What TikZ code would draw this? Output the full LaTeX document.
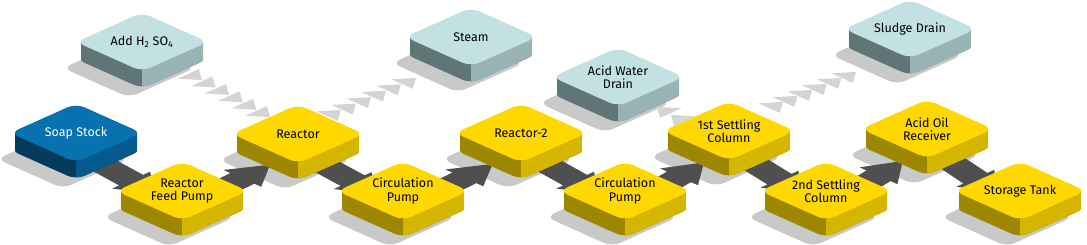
\documentclass[tikz,border=0pt]{standalone}
\usepackage{fontspec}
\setmainfont{Fira Sans}
\usetikzlibrary{calc,shapes.geometric}

\definecolor{yellowtop}{HTML}{FFD800}
\definecolor{yellowleft}{HTML}{9E8700}
\definecolor{yellowright}{HTML}{D4B500}
\definecolor{bluetop}{HTML}{0872B0}
\definecolor{blueleft}{HTML}{043A5C}
\definecolor{blueright}{HTML}{045A8C}
\definecolor{paletop}{HTML}{C3E0E3}
\definecolor{paleleft}{HTML}{5F7576}
\definecolor{paleright}{HTML}{99B2B4}
\definecolor{flowgray}{HTML}{4F4F4F}
\definecolor{shadowgray}{HTML}{C9C9C9}
\definecolor{chevgray}{HTML}{D4D4D4}

\pgfdeclarelayer{ground}
\pgfdeclarelayer{flows}
\pgfsetlayers{ground,flows,main}

% block: #1 name, #2 centre, #3 colour prefix, #4 text colour, #5 label
\newcommand{\isoblock}[5]{%
  \begin{pgfonlayer}{ground}
    \fill[shadowgray, rounded corners=9pt, shift={#2}, shift={(-13,26)}]
      (-66,0) -- (0,-29.5) -- (66,0) -- (0,29.5) -- cycle;
  \end{pgfonlayer}
  \begin{scope}[shift={#2}]
    \foreach \k in {1,3,...,17}
      \fill[#3left, rounded corners=9pt] (-66,\k) -- (0,\k-29.5) -- (66,\k) -- (0,\k+29.5) -- cycle;
    \begin{scope}
      \clip (0,-40) rectangle (70,50);
      \foreach \k in {1,3,...,17}
        \fill[#3right, rounded corners=9pt] (-66,\k) -- (0,\k-29.5) -- (66,\k) -- (0,\k+29.5) -- cycle;
    \end{scope}
  \end{scope}
  \node[face, fill=#3top, text=#4] (#1) at #2 {#5};
}

% flat arrow on the ground: #1 from, #2 to, #3 sideways vector
\newcommand{\flowarrow}[3]{%
  \begin{pgfonlayer}{flows}
    \coordinate (fa) at ($(#1)+(0,17)$);
    \coordinate (fb) at ($(#2)+(0,17)$);
    \coordinate (fh) at ($(fa)!0.52!(fb)$);
    \fill[flowgray] ($(fa)+0.19*#3$) -- ($(fh)+0.19*#3$) -- ($(fh)+0.3*#3$)
      -- ($(fa)!0.76!(fb)$) -- ($(fh)-0.3*#3$) -- ($(fh)-0.19*#3$) -- ($(fa)-0.19*#3$) -- cycle;
  \end{pgfonlayer}
}

% one chevron: #1 centre, #2 heading, #3 sideways vector
\newcommand{\chev}[3]{%
  \fill[chevgray] ($#1+0.11*#2$) -- ($#1-0.11*#2+0.17*#3$) -- ($#1-0.11*#2-0.17*#3$) -- cycle;
}

\begin{document}
\begin{tikzpicture}[x=1pt, y=-1pt,
    face/.style={diamond, aspect=2.25, minimum width=132pt, minimum height=59pt,
      inner sep=0pt, rounded corners=9pt, align=center,
      font=\fontsize{12.5}{13.5}\selectfont}]
  \useasboundingbox (0,0) rectangle (1087,245);

  % Feeds and drains (back row)
  \isoblock{addacid}{(142,42)}{pale}{black}{Add H\textsubscript{2} SO\textsubscript{4}}
  \isoblock{steam}{(471,37)}{pale}{black}{Steam}
  \isoblock{acidwater}{(618,77)}{pale}{black}{Acid Water\\Drain}
  \isoblock{sludge}{(910,29)}{pale}{black}{Sludge Drain}

  % Upper row
  \isoblock{soap}{(76,133)}{blue}{white}{Soap Stock}
  \isoblock{reactor}{(298,134)}{yellow}{black}{Reactor}
  \isoblock{reactortwo}{(521,133)}{yellow}{black}{Reactor-2}
  \isoblock{settleone}{(729,131)}{yellow}{black}{1st Settling\\Column}
  \isoblock{acidoil}{(927,129)}{yellow}{black}{Acid Oil\\Receiver}

  % Lower row
  \isoblock{feedpump}{(182,191)}{yellow}{black}{Reactor\\Feed Pump}
  \isoblock{circone}{(403,191)}{yellow}{black}{Circulation\\Pump}
  \isoblock{circtwo}{(625,191)}{yellow}{black}{Circulation\\Pump}
  \isoblock{settletwo}{(826,191)}{yellow}{black}{2nd Settling\\Column}
  \isoblock{storage}{(1020,191)}{yellow}{black}{Storage Tank}

  % Main flow
  \flowarrow{soap}{feedpump}{(63,-28)}
  \flowarrow{feedpump}{reactor}{(63,28)}
  \flowarrow{reactor}{circone}{(63,-28)}
  \flowarrow{circone}{reactortwo}{(63,28)}
  \flowarrow{reactortwo}{circtwo}{(63,-28)}
  \flowarrow{circtwo}{settleone}{(63,28)}
  \flowarrow{settleone}{settletwo}{(63,-28)}
  \flowarrow{settletwo}{acidoil}{(63,28)}
  \flowarrow{acidoil}{storage}{(63,-28)}

  % Side streams (chevrons)
  \begin{pgfonlayer}{ground}
    \coordinate (acidin) at ($(addacid)+(53,35)$);
    \coordinate (acidout) at ($(reactor)+(-35,-20)$);
    \foreach \t in {0,0.2,...,1.01} {
      \coordinate (c) at ($(acidin)!\t!(acidout)$);
      \chev{(c)}{(63,28)}{(63,-28)}
    }
    \coordinate (steamin) at ($(reactor)+(36,-21)$);
    \coordinate (steamout) at ($(steam)+(-62,44)$);
    \foreach \t in {0,0.2,...,1.01} {
      \coordinate (c) at ($(steamin)!\t!(steamout)$);
      \chev{(c)}{(63,-28)}{(63,28)}
    }
    \coordinate (waterin) at ($(settleone)+(-51,-13)$);
    \coordinate (waterout) at ($(acidwater)+(46,33)$);
    \foreach \t in {0,1} {
      \coordinate (c) at ($(waterin)!\t!(waterout)$);
      \chev{(c)}{(-63,-28)}{(63,-28)}
    }
    \coordinate (sludgein) at ($(settleone)+(47,-26)$);
    \coordinate (sludgeout) at ($(sludge)+(-61,46)$);
    \foreach \t in {0,0.2,...,1.01} {
      \coordinate (c) at ($(sludgein)!\t!(sludgeout)$);
      \chev{(c)}{(63,-28)}{(63,28)}
    }
  \end{pgfonlayer}
\end{tikzpicture}
\end{document}
